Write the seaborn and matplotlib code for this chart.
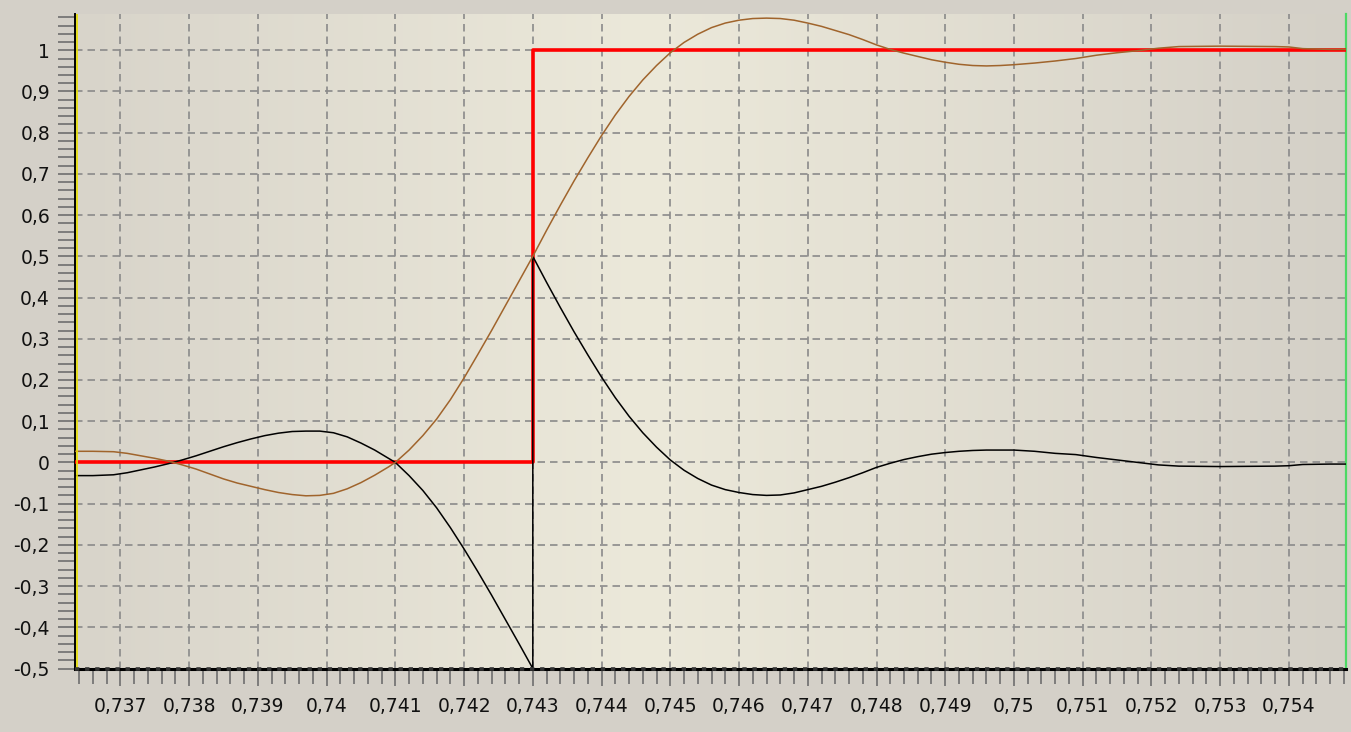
import numpy as np
import pandas as pd
import matplotlib
matplotlib.use("Agg")
import matplotlib.pyplot as plt
import seaborn as sns
from matplotlib.ticker import FixedLocator, MultipleLocator, FuncFormatter
from matplotlib.colors import LinearSegmentedColormap

# ---------------- data ----------------
brown_x = [0.73634, 0.7366, 0.7369, 0.7371, 0.7373, 0.7375, 0.7377, 0.7379, 0.7381,
           0.7383, 0.7385, 0.7387, 0.7389, 0.7391, 0.7393, 0.7395, 0.7397, 0.7399,
           0.7401, 0.7403, 0.7405, 0.7407, 0.7409, 0.7410, 0.7412, 0.7414, 0.7416,
           0.7418, 0.7420, 0.7422, 0.7424, 0.7426, 0.7428, 0.7430, 0.7432, 0.7434,
           0.7436, 0.7438, 0.7440, 0.7442, 0.7444, 0.7446, 0.7448, 0.7450, 0.7452,
           0.7454, 0.7456, 0.7458, 0.7460, 0.7462, 0.7464, 0.7466, 0.7468, 0.7470,
           0.7472, 0.7474, 0.7476, 0.7478, 0.7480, 0.7482, 0.7484, 0.7486, 0.7488,
           0.7490, 0.7492, 0.7494, 0.7496, 0.7498, 0.7500, 0.7503, 0.7506, 0.7509,
           0.7512, 0.7515, 0.7518, 0.7521, 0.7524, 0.7530, 0.7538, 0.7540, 0.7542,
           0.7546, 0.75483]
brown_y = [0.027, 0.027, 0.026, 0.022, 0.016, 0.010, 0.003, -0.006, -0.016,
           -0.028, -0.040, -0.050, -0.058, -0.066, -0.073, -0.078, -0.081, -0.080,
           -0.075, -0.064, -0.049, -0.031, -0.011, 0.000, 0.030, 0.065, 0.105,
           0.152, 0.205, 0.262, 0.320, 0.380, 0.440, 0.500, 0.563, 0.624,
           0.683, 0.739, 0.793, 0.843, 0.888, 0.928, 0.963, 0.994, 1.019,
           1.039, 1.055, 1.066, 1.073, 1.077, 1.078, 1.077, 1.073, 1.066,
           1.058, 1.048, 1.038, 1.026, 1.013, 1.002, 0.993, 0.985, 0.977,
           0.971, 0.966, 0.963, 0.962, 0.963, 0.965, 0.969, 0.974, 0.980,
           0.988, 0.994, 0.999, 1.005, 1.009, 1.010, 1.009, 1.008, 1.004,
           1.002, 1.002]

black_x = [0.73634, 0.7366, 0.7369, 0.7371, 0.7373, 0.7375, 0.7377, 0.7379, 0.7381,
           0.7383, 0.7385, 0.7387, 0.7389, 0.7391, 0.7393, 0.7395, 0.7397, 0.7399,
           0.7401, 0.7403, 0.7405, 0.7407, 0.7409, 0.7410, 0.7412, 0.7414, 0.7416,
           0.7418, 0.7420, 0.7422, 0.7424, 0.7426, 0.7428, 0.7430, 0.7430, 0.7432,
           0.7434, 0.7436, 0.7438, 0.7440, 0.7442, 0.7444, 0.7446, 0.7448, 0.7450,
           0.7452, 0.7454, 0.7456, 0.7458, 0.7460, 0.7462, 0.7464, 0.7466, 0.7468,
           0.7470, 0.7472, 0.7474, 0.7476, 0.7478, 0.7480, 0.7482, 0.7484, 0.7486,
           0.7488, 0.7490, 0.7492, 0.7494, 0.7496, 0.7498, 0.7500, 0.7503, 0.7506,
           0.7509, 0.7512, 0.7515, 0.7518, 0.7521, 0.7524, 0.7530, 0.7538, 0.7540,
           0.7542, 0.7546, 0.75483]
black_y = [-0.032, -0.032, -0.030, -0.025, -0.018, -0.011, -0.003, 0.006, 0.016,
           0.027, 0.038, 0.048, 0.057, 0.065, 0.071, 0.075, 0.076, 0.076,
           0.072, 0.062, 0.047, 0.030, 0.010, 0.000, -0.032, -0.068, -0.110,
           -0.158, -0.210, -0.265, -0.322, -0.381, -0.440, -0.500, 0.500, 0.437,
           0.376, 0.317, 0.261, 0.207, 0.157, 0.112, 0.072, 0.037, 0.006,
           -0.019, -0.039, -0.055, -0.066, -0.073, -0.078, -0.080, -0.079, -0.074,
           -0.066, -0.058, -0.048, -0.037, -0.025, -0.012, -0.002, 0.007, 0.014,
           0.020, 0.024, 0.027, 0.029, 0.030, 0.030, 0.030, 0.027, 0.022,
           0.019, 0.012, 0.006, 0.000, -0.006, -0.009, -0.010, -0.009, -0.008,
           -0.005, -0.004, -0.004]

red_x = [0.73634, 0.7430, 0.7430, 0.75483]
red_y = [0.0, 0.0, 1.0, 1.0]

x_ticks = [0.737, 0.738, 0.739, 0.740, 0.741, 0.742, 0.743, 0.744, 0.745, 0.746,
           0.747, 0.748, 0.749, 0.750, 0.751, 0.752, 0.753, 0.754]
y_ticks = [-0.5, -0.4, -0.3, -0.2, -0.1, 0.0, 0.1, 0.2, 0.3, 0.4, 0.5, 0.6,
           0.7, 0.8, 0.9, 1.0]

# ---------------- figure ----------------
sns.set_theme(style="white")
plt.rcParams['font.family'] = ['DejaVu Sans']

W, H = 1351, 732
fig = plt.figure(figsize=(W / 100, H / 100), dpi=100, facecolor='#D4D0C8')
left, right, top, bottom = 75, 1346, 14, 668.5
ax = fig.add_axes([left / W, 1 - bottom / H, (right - left) / W, (bottom - top) / H])
ax.set_facecolor('#DCD8CE')

XMIN, XMAX = 0.73634, 0.75483
YMIN, YMAX = -0.5, 1.088

# background gradient
cmap = LinearSegmentedColormap.from_list(
    'bg', [(0.0, '#D8D4CA'), (0.45, '#ECE9DA'), (1.0, '#D4D0C7')])
grad = np.linspace(0, 1, 512).reshape(1, -1)
ax.imshow(grad, cmap=cmap, aspect='auto', extent=[0, 1, 0, 1],
          transform=ax.transAxes, zorder=0, interpolation='bilinear')

df_b = pd.DataFrame({'x': brown_x, 'y': brown_y})
df_k = pd.DataFrame({'x': black_x, 'y': black_y})
df_r = pd.DataFrame({'x': red_x, 'y': red_y})

sns.lineplot(data=df_r, x='x', y='y', ax=ax, color='#FF0000', linewidth=2.6,
             estimator=None, sort=False, zorder=3)
sns.lineplot(data=df_k, x='x', y='y', ax=ax, color='#000000', linewidth=1.1,
             estimator=None, sort=False, zorder=4)
sns.lineplot(data=df_b, x='x', y='y', ax=ax, color='#A0642C', linewidth=1.1,
             estimator=None, sort=False, zorder=5)

ax.set_xlim(XMIN, XMAX)
ax.set_ylim(YMIN, YMAX)
ax.set_xlabel('')
ax.set_ylabel('')

ax.xaxis.set_major_locator(FixedLocator(x_ticks))
ax.yaxis.set_major_locator(FixedLocator(y_ticks))
ax.xaxis.set_minor_locator(MultipleLocator(0.0002))
ax.yaxis.set_minor_locator(MultipleLocator(0.02))


def fmt_x(v, pos):
    s = f"{v:.3f}".rstrip('0').rstrip('.')
    return s.replace('.', ',')


def fmt_y(v, pos):
    r = round(v, 1)
    if abs(r) < 1e-9:
        return '0'
    return f"{r:g}".replace('.', ',')


ax.xaxis.set_major_formatter(FuncFormatter(fmt_x))
ax.yaxis.set_major_formatter(FuncFormatter(fmt_y))

ax.tick_params(axis='y', which='both', direction='out', length=12, width=1.2,
               color='#6E6E6E', left=True, right=False, pad=6, labelsize=13.5,
               labelcolor='#111111')
ax.tick_params(axis='x', which='major', direction='out', length=12.5, width=1.2,
               color='#6E6E6E', bottom=True, top=False, pad=8, labelsize=13.5,
               labelcolor='#111111')
ax.tick_params(axis='x', which='minor', direction='out', length=10.5, width=1.2,
               color='#6E6E6E', bottom=True, top=False)

ax.grid(True, which='major', axis='both', color='#8A8A8A', linewidth=1.2,
        linestyle=(0, (4.5, 3)), zorder=1)
ax.set_axisbelow(True)

ax.spines['top'].set_visible(False)
ax.spines['left'].set_color('#000000')
ax.spines['left'].set_linewidth(1.4)
ax.spines['bottom'].set_color('#000000')
ax.spines['bottom'].set_linewidth(2.2)
ax.spines['right'].set_color('#4CD964')
ax.spines['right'].set_linewidth(1.6)

# yellow inner edge next to the left axis, dotted pattern on the bottom axis
ax.axvline(XMIN + (XMAX - XMIN) * 0.0012, color='#E8E000', linewidth=1.2, zorder=6)
ax.axhline(YMIN, color='#333333', linewidth=2.6, linestyle=(0, (1.2, 1.6)), zorder=6,
           clip_on=False)

fig.savefig('out.png', dpi=100, facecolor=fig.get_facecolor())
